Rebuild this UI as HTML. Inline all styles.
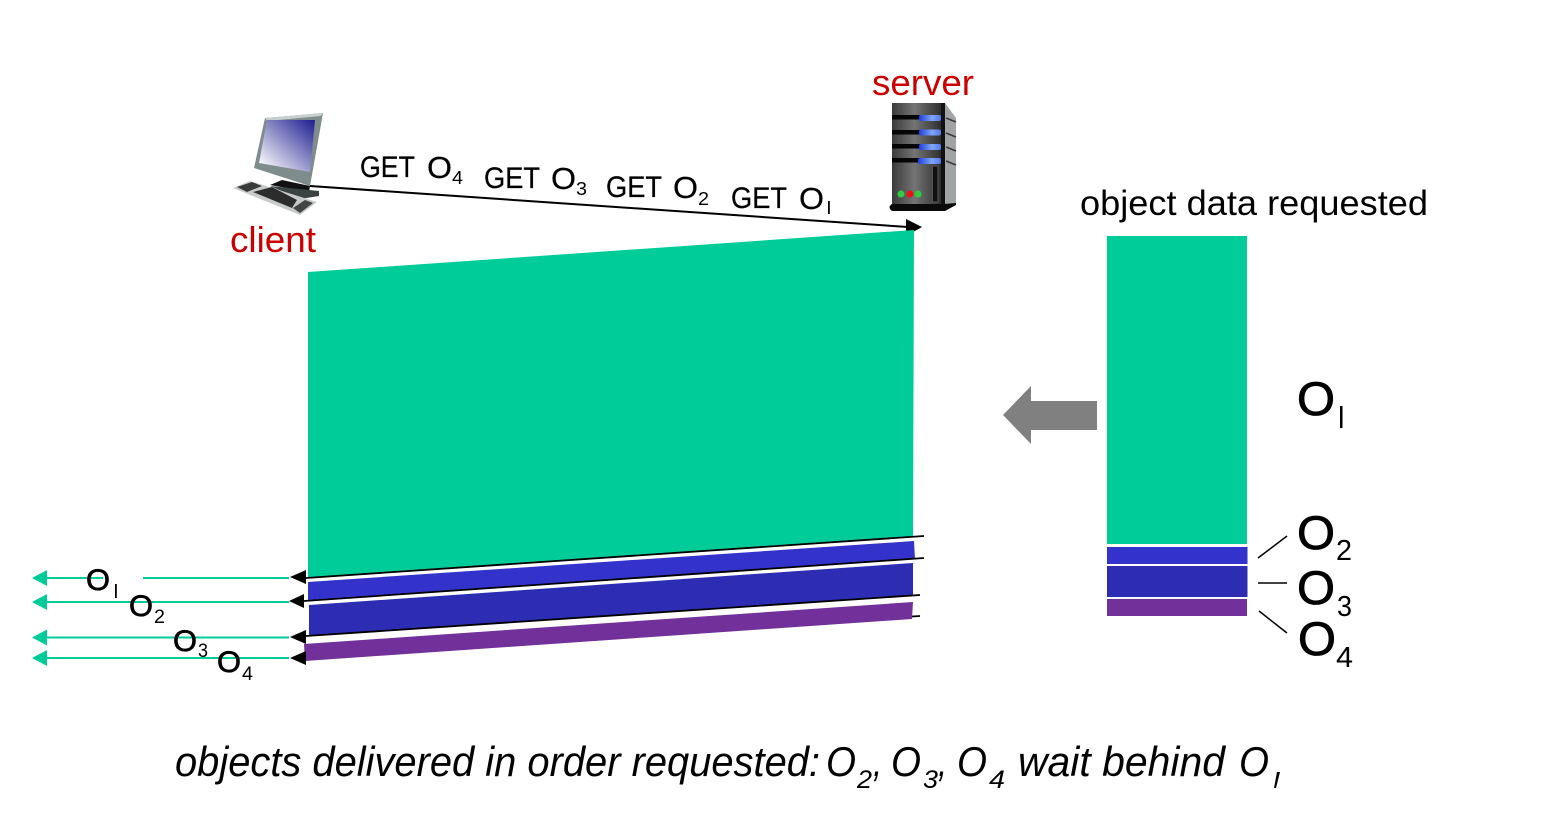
<!DOCTYPE html>
<html>
<head>
<meta charset="utf-8">
<style>
html,body{margin:0;padding:0;background:#fff}
svg{display:block}
text{font-family:"Liberation Sans",sans-serif;fill:#000}
.r{fill:#cc0000}
.i{font-style:italic}
.o{stroke:#000;stroke-width:.7px}
.o2{stroke:#000;stroke-width:.8px}
.t{stroke:#000;stroke-width:.25px}
</style>
</head>
<body>
<svg width="1557" height="820" viewBox="0 0 1557 820" xmlns="http://www.w3.org/2000/svg">
<defs>
<linearGradient id="scr" x1="1" y1="0" x2="0" y2="1"><stop offset="0" stop-color="#1c1c90"/><stop offset=".95" stop-color="#ffffff"/></linearGradient>
<linearGradient id="srv" x1="0" y1="0" x2="1" y2="0"><stop offset="0" stop-color="#3a3a3a"/><stop offset=".45" stop-color="#747474"/><stop offset="1" stop-color="#2c2c2c"/></linearGradient>
<linearGradient id="bl" x1="0" y1="0" x2="1" y2="0"><stop offset="0" stop-color="#1f3fe0"/><stop offset=".6" stop-color="#7fa6f5"/><stop offset="1" stop-color="#5577ee"/></linearGradient>
</defs>

<!-- client -->
<polygon points="265,118 323,113 310,186 254,168" fill="#7f8c8c"/>
<polygon points="265,118 323,113 321,116 267,121" fill="#c8cece"/>
<polygon points="267,120 315,120 310,172 259,163" fill="url(#scr)"/>
<polygon points="270,185 282,180 310,186 309,192" fill="#111"/>
<polygon points="270,186 309,190 319,191 319,196 300,199" fill="#3a4242"/>
<polygon points="233,188 250,181 317,202 300,215" fill="#c6caca"/>
<polygon points="237,187 252,182 262,186 247,192" fill="#3a3a3a"/>
<polygon points="253,192 272,187 297,200 292,208" fill="#2c2c2c"/>
<polygon points="293,208 305,200 313,203 300,213" fill="#444"/>

<!-- server -->
<polygon points="892,103 942,103 942,204 892,204" fill="url(#srv)"/>
<polygon points="945,103 956,118 956,203 945,208" fill="#a0a4a4"/>
<g stroke="#3a3a3a" stroke-width="1.500">
<line x1="946" y1="118" x2="956" y2="122"/><line x1="946" y1="133" x2="956" y2="137"/><line x1="946" y1="147" x2="956" y2="151"/><line x1="946" y1="161" x2="956" y2="165"/>
</g>
<rect x="941" y="103" width="4" height="104" fill="#111"/>
<rect x="892" y="115" width="28" height="4.500" fill="#050505"/>
<rect x="892" y="130" width="28" height="4.500" fill="#050505"/>
<rect x="892" y="144" width="28" height="4.500" fill="#050505"/>
<rect x="892" y="158" width="28" height="4.500" fill="#050505"/>
<rect x="919" y="115" width="22" height="6" rx="2" fill="url(#bl)"/>
<rect x="919" y="129.500" width="22" height="6" rx="2" fill="url(#bl)"/>
<rect x="919" y="144" width="22" height="6" rx="2" fill="url(#bl)"/>
<rect x="918" y="158" width="23" height="6" rx="2" fill="url(#bl)"/>
<rect x="932.500" y="166" width="5.500" height="36" fill="#111" stroke="#555" stroke-width="1"/>
<circle cx="901" cy="194" r="3.500" fill="#2ecc40"/>
<circle cx="910" cy="194" r="3.500" fill="#ee1111"/>
<circle cx="918" cy="194" r="3.500" fill="#2ecc40"/>
<path d="M892,204 H944 L956,203 V205 L945,211 H892 Q887,207 892,204Z" fill="#0a0a0a"/>

<!-- labels top -->
<text class="r" x="872" y="95" font-size="36" textLength="102" lengthAdjust="spacingAndGlyphs">server</text>
<text class="r" x="230" y="252" font-size="36" textLength="86" lengthAdjust="spacingAndGlyphs">client</text>

<line x1="310" y1="186" x2="908" y2="227" stroke="#000" stroke-width="2"/>
<polygon points="922,227 906,219 906,236" fill="#000"/>

<text class="t" x="360" y="177" font-size="30" textLength="55" lengthAdjust="spacingAndGlyphs">GET</text>
<text class="t" x="427" y="178" font-size="31" textLength="25" lengthAdjust="spacingAndGlyphs">O</text>
<text x="452" y="184" font-size="18" textLength="11" lengthAdjust="spacingAndGlyphs">4</text>
<text class="t" x="484" y="188" font-size="30" textLength="56" lengthAdjust="spacingAndGlyphs">GET</text>
<text class="t" x="551" y="189" font-size="31" textLength="25" lengthAdjust="spacingAndGlyphs">O</text>
<text x="576" y="195" font-size="18" textLength="11" lengthAdjust="spacingAndGlyphs">3</text>
<text class="t" x="606" y="197" font-size="30" textLength="56" lengthAdjust="spacingAndGlyphs">GET</text>
<text class="t" x="673" y="198" font-size="31" textLength="25" lengthAdjust="spacingAndGlyphs">O</text>
<text x="698" y="205" font-size="18" textLength="11" lengthAdjust="spacingAndGlyphs">2</text>
<text class="t" x="731" y="208" font-size="30" textLength="56" lengthAdjust="spacingAndGlyphs">GET</text>
<text class="t" x="799" y="209" font-size="31" textLength="25" lengthAdjust="spacingAndGlyphs">O</text>
<rect x="828" y="201" width="1.800" height="13" fill="#000"/>

<!-- main data -->
<polygon points="308,272 914,230 913,537 308,578" fill="#00cc99"/>
<polygon points="308,582 914,541 915,559 308,600" fill="#3333cc"/>
<polygon points="309,605 913,563 913,596 309,636" fill="#2d2db3"/>
<polygon points="304,644 913,602 912,619 305,661" fill="#72309b"/>

<line x1="306" y1="578" x2="924" y2="536" stroke="#000" stroke-width="1.800"/>
<line x1="304" y1="601" x2="924" y2="558" stroke="#000" stroke-width="1.800"/>
<line x1="306" y1="636" x2="920" y2="595" stroke="#000" stroke-width="1.800"/>
<line x1="912" y1="616.500" x2="920" y2="616" stroke="#000" stroke-width="1.800"/>

<polygon points="290,577 306,570 306,584" fill="#000"/>
<polygon points="289,601 304,594 304,608" fill="#000"/>
<polygon points="290,637 306,630 306,644" fill="#000"/>
<polygon points="290,658 306,651 306,665" fill="#000"/>

<!-- green arrows -->
<g stroke="#00cc99" stroke-width="2">
<line x1="46" y1="578" x2="103" y2="578"/>
<line x1="143" y1="578" x2="289" y2="578"/>
<line x1="46" y1="602" x2="289" y2="602"/>
<line x1="46" y1="637.500" x2="289" y2="637.500"/>
<line x1="46" y1="658" x2="289" y2="658"/>
</g>
<g fill="#00cc99">
<polygon points="32,578 47,570 47,586"/>
<polygon points="32,602 47,594 47,610"/>
<polygon points="32,637.500 47,629.500 47,645.500"/>
<polygon points="32,658 47,650 47,666"/>
</g>

<text class="o" x="86" y="590" font-size="30" textLength="24" lengthAdjust="spacingAndGlyphs">O</text>
<rect x="115" y="584" width="1.800" height="14" fill="#000"/>
<text class="o" x="129" y="616" font-size="30" textLength="24" lengthAdjust="spacingAndGlyphs">O</text>
<text x="154" y="623" font-size="19" textLength="11" lengthAdjust="spacingAndGlyphs">2</text>
<text class="o" x="173" y="651" font-size="30" textLength="24" lengthAdjust="spacingAndGlyphs">O</text>
<text x="198" y="657" font-size="19" textLength="10" lengthAdjust="spacingAndGlyphs">3</text>
<text class="o" x="217" y="672" font-size="30" textLength="24" lengthAdjust="spacingAndGlyphs">O</text>
<text x="242" y="680" font-size="19" textLength="11" lengthAdjust="spacingAndGlyphs">4</text>

<!-- gray arrow -->
<polygon points="1003,415 1031,386 1031,401 1097,401 1097,430 1031,430 1031,444" fill="#808080"/>

<!-- right stack -->
<text x="1080" y="215" font-size="35" textLength="348" lengthAdjust="spacingAndGlyphs">object data requested</text>
<rect x="1107" y="236" width="140" height="308" fill="#00cc99"/>
<rect x="1107" y="547" width="140.500" height="17" fill="#3333cc"/>
<rect x="1107" y="566" width="140.500" height="31" fill="#2d2db3"/>
<rect x="1107" y="599" width="140" height="17" fill="#72309b"/>

<line x1="1258" y1="558" x2="1287" y2="536" stroke="#000" stroke-width="1.500"/>
<line x1="1258" y1="583" x2="1287" y2="583" stroke="#000" stroke-width="1.500"/>
<line x1="1259" y1="611" x2="1287" y2="633" stroke="#000" stroke-width="1.500"/>

<text class="o2" x="1297" y="415" font-size="47" textLength="38" lengthAdjust="spacingAndGlyphs">O</text>
<rect x="1340" y="406" width="2.500" height="22" fill="#000"/>
<text class="o2" x="1297" y="549" font-size="47" textLength="38" lengthAdjust="spacingAndGlyphs">O</text>
<text x="1336" y="560" font-size="29" textLength="16" lengthAdjust="spacingAndGlyphs">2</text>
<text class="o2" x="1297" y="604" font-size="47" textLength="38" lengthAdjust="spacingAndGlyphs">O</text>
<text x="1337" y="616" font-size="29" textLength="15" lengthAdjust="spacingAndGlyphs">3</text>
<text class="o2" x="1298" y="655" font-size="47" textLength="38" lengthAdjust="spacingAndGlyphs">O</text>
<text x="1336" y="667" font-size="29" textLength="17" lengthAdjust="spacingAndGlyphs">4</text>

<!-- caption -->
<text class="i" x="175" y="776" font-size="42" textLength="645" lengthAdjust="spacingAndGlyphs">objects delivered in order requested:</text>
<text class="i" x="826" y="776" font-size="42" textLength="30" lengthAdjust="spacingAndGlyphs">O</text>
<text class="i" x="857" y="788" font-size="25" textLength="15" lengthAdjust="spacingAndGlyphs">2</text>
<text class="i" x="873" y="776" font-size="42" textLength="9" lengthAdjust="spacingAndGlyphs">,</text>
<text class="i" x="891" y="776" font-size="42" textLength="30" lengthAdjust="spacingAndGlyphs">O</text>
<text class="i" x="923" y="788" font-size="25" textLength="15" lengthAdjust="spacingAndGlyphs">3</text>
<text class="i" x="938" y="776" font-size="42" textLength="9" lengthAdjust="spacingAndGlyphs">,</text>
<text class="i" x="957" y="776" font-size="42" textLength="30" lengthAdjust="spacingAndGlyphs">O</text>
<text class="i" x="989" y="788" font-size="25" textLength="16" lengthAdjust="spacingAndGlyphs">4</text>
<text class="i" x="1018" y="776" font-size="42" textLength="207" lengthAdjust="spacingAndGlyphs">wait behind</text>
<text class="i" x="1239" y="776" font-size="42" textLength="30" lengthAdjust="spacingAndGlyphs">O</text>
<polygon points="1277,772 1280,772 1276,788 1274,788" fill="#000"/>
</svg>
</body>
</html>
